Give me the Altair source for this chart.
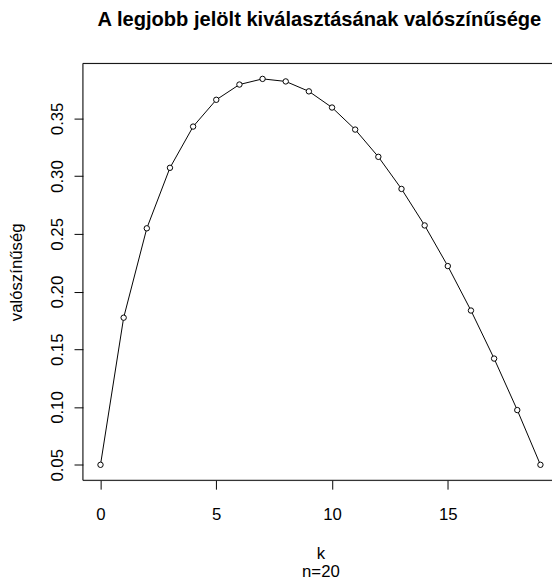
import altair as alt
import pandas as pd

k_values = list(range(20))
probabilities = [0.0500, 0.1774, 0.2548, 0.3072, 0.3429, 0.3661, 0.3793, 0.3842,
                 0.3820, 0.3734, 0.3594, 0.3403, 0.3167, 0.2889, 0.2573, 0.2221,
                 0.1836, 0.1420, 0.0974, 0.0500]
x_ticks = [0, 5, 10, 15]
y_ticks = [0.05, 0.10, 0.15, 0.20, 0.25, 0.30, 0.35]

df = pd.DataFrame({"k": k_values, "p": probabilities})

FONT = "Liberation Sans"
W, H = 476, 423

x_enc = alt.X("k:Q",
              scale=alt.Scale(domain=[-0.76, 19.50], nice=False, zero=False),
              axis=alt.Axis(values=x_ticks, format="d", grid=False, domain=False,
                            tickSize=9, tickColor="black", labelPadding=18,
                            labelFont=FONT, labelFontSize=17, labelColor="black",
                            labelFontWeight="normal",
                            title=["k", "n=20"], titleFont=FONT, titleFontSize=17,
                            titleFontWeight="normal", titleColor="black",
                            titleLineHeight=18.5, titleX=241, titleY=79,
                            titleAlign="center", titleBaseline="alphabetic"))
y_enc = alt.Y("p:Q",
              scale=alt.Scale(domain=[0.0366, 0.3976], nice=False, zero=False),
              axis=alt.Axis(values=y_ticks, format=".2f", grid=False, domain=False,
                            tickSize=9, tickColor="black", labelPadding=12,
                            labelAngle=270, labelAlign="center", labelBaseline="alphabetic",
                            labelFont=FONT, labelFontSize=17, labelColor="black",
                            title="valószínűség", titleFont=FONT, titleFontSize=17,
                            titleFontWeight="normal", titleColor="black",
                            titleAngle=270, titleX=-62, titleY=211.5,
                            titleAlign="center", titleBaseline="alphabetic"))

base = alt.Chart(df)
line = base.mark_line(color="black", strokeWidth=1).encode(x=x_enc, y=y_enc)
points = base.mark_point(shape="circle", filled=False, fill="white", fillOpacity=1,
                         color="black", strokeWidth=1, size=30, opacity=1).encode(x=x_enc, y=y_enc)

frame_data = alt.Data(values=[{"a": 1}])
left_edge = alt.Chart(frame_data).mark_rule(color="black", strokeWidth=1).encode(
    x=alt.value(0), y=alt.value(0), y2=alt.value(H))
top_edge = alt.Chart(frame_data).mark_rule(color="black", strokeWidth=1).encode(
    x=alt.value(0), x2=alt.value(W), y=alt.value(0))
bottom_edge = alt.Chart(frame_data).mark_rule(color="black", strokeWidth=1).encode(
    x=alt.value(0), x2=alt.value(W), y=alt.value(H))

chart = alt.layer(line, points, left_edge, top_edge, bottom_edge).properties(
    width=W, height=H,
    padding={"left": 76, "top": 52, "right": 0, "bottom": 100},
    autosize=alt.AutoSizeParams(type="none"),
    title=alt.TitleParams(text="A legjobb jelölt kiválasztásának valószínűsége",
                          font=FONT, fontSize=20.4, fontWeight="bold", color="black",
                          anchor="middle", frame="group", dx=2, offset=17.5,
                          baseline="alphabetic"),
).configure_view(stroke=None).configure(background="white")

chart.save("out.html", embed_options={"renderer": "svg", "actions": False})
